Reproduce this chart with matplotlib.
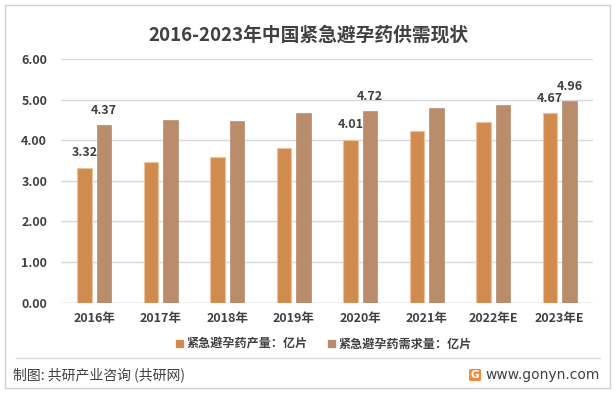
import matplotlib
matplotlib.use("Agg")
import matplotlib.pyplot as plt
from matplotlib.patches import Rectangle, FancyBboxPatch
import numpy as np

plt.rcParams['font.family'] = ['Noto Sans CJK SC', 'DejaVu Sans']

categories = ["2016年", "2017年", "2018年", "2019年", "2020年", "2021年", "2022年E", "2023年E"]
production = [3.32, 3.45, 3.58, 3.80, 4.01, 4.22, 4.44, 4.67]
demand = [4.37, 4.50, 4.48, 4.66, 4.72, 4.80, 4.87, 4.96]
labeled = [0, 4, 7]
series_names = ["紧急避孕药产量：亿片", "紧急避孕药需求量：亿片"]
yticks = [0, 1, 2, 3, 4, 5, 6]

c_prod = "#D28B4F"
c_dem = "#B98C6C"
txt = "#404040"

W, H = 616, 395
fig = plt.figure(figsize=(W / 100, H / 100), dpi=100)

# outer border
fig.patches.append(Rectangle((5 / W, 1 - 388 / H), 605 / W, 383 / H, transform=fig.transFigure,
                             fill=False, edgecolor="#D0D0D0", linewidth=1))

ax = fig.add_axes([61 / W, 1 - 302.5 / H, 532 / W, 243.5 / H])
x = np.arange(len(categories))
bw = 0.22
off = 0.148
ax.bar(x - off, production, bw, color=c_prod, edgecolor="#EDC39E", linewidth=0.8, zorder=3)
ax.bar(x + off, demand, bw, color=c_dem, edgecolor=c_dem, linewidth=0.5, zorder=3)

for i in labeled:
    ax.annotate(f"{production[i]:.2f}", (x[i] - off, production[i]), xytext=(0, 6),
                textcoords="offset points", ha="center", va="bottom", fontsize=9,
                fontweight="bold", color=txt)
    ax.annotate(f"{demand[i]:.2f}", (x[i] + off, demand[i]), xytext=(0, 6),
                textcoords="offset points", ha="center", va="bottom", fontsize=9,
                fontweight="bold", color=txt)

ax.set_xlim(-0.5, len(categories) - 0.5)
ax.set_ylim(0, 6)
ax.set_yticks(yticks)
ax.set_yticklabels([f"{v:.2f}" for v in yticks], fontsize=9, color=txt, fontweight="bold")
ax.set_xticks(x)
ax.set_xticklabels(categories, fontsize=9, color=txt, fontweight="bold")
ax.tick_params(axis="both", length=0)
ax.tick_params(axis="y", pad=10)
ax.tick_params(axis="x", pad=7)
ax.grid(axis="y", color="#D9D9D9", linewidth=1, zorder=0)
for s in ax.spines.values():
    s.set_visible(False)
ax.axhline(0, color="#D0D0D0", linewidth=1, zorder=2)

fig.text(0.5, 1 - 35 / H, "2016-2023年中国紧急避孕药供需现状", ha="center", va="center",
         fontsize=13.5, fontweight="bold", color=txt)

# legend
h1 = Rectangle((0, 0), 1, 1, color=c_prod)
h2 = Rectangle((0, 0), 1, 1, color=c_dem)
leg = fig.legend([h1, h2], series_names, loc="center", bbox_to_anchor=(324 / W, 1 - 344 / H),
                 ncol=2, frameon=False, fontsize=8.7, handlelength=0.55, handleheight=0.55,
                 handletextpad=0.3, columnspacing=1.7, labelcolor=txt,
                 borderpad=0, borderaxespad=0)
for t in leg.get_texts():
    t.set_fontweight("bold")

# separator
fig.add_artist(plt.Line2D([16 / W, 600 / W], [1 - 358 / H, 1 - 358 / H], color="#D9D9D9",
                          linewidth=1, transform=fig.transFigure))

fig.text(13 / W, 1 - 375 / H, "制图: 共研产业咨询 (共研网)", ha="left", va="center",
         fontsize=10, color=txt)
fig.text(600 / W, 1 - 375 / H, "www.gonyn.com", ha="right", va="center",
         fontsize=10, color=txt, family=["DejaVu Sans"])
fig.patches.append(FancyBboxPatch((469 / W, 1 - 381 / H), 12 / W, 12 / H,
                                  boxstyle="round,pad=0,rounding_size=0.003",
                                  transform=fig.transFigure, facecolor="#F08A3C",
                                  edgecolor="none"))
fig.text(475 / W, 1 - 375.5 / H, "G", ha="center", va="center", fontsize=7.5,
         fontweight="bold", color="white", family=["DejaVu Sans"])

fig.savefig("out.png", dpi=100)
